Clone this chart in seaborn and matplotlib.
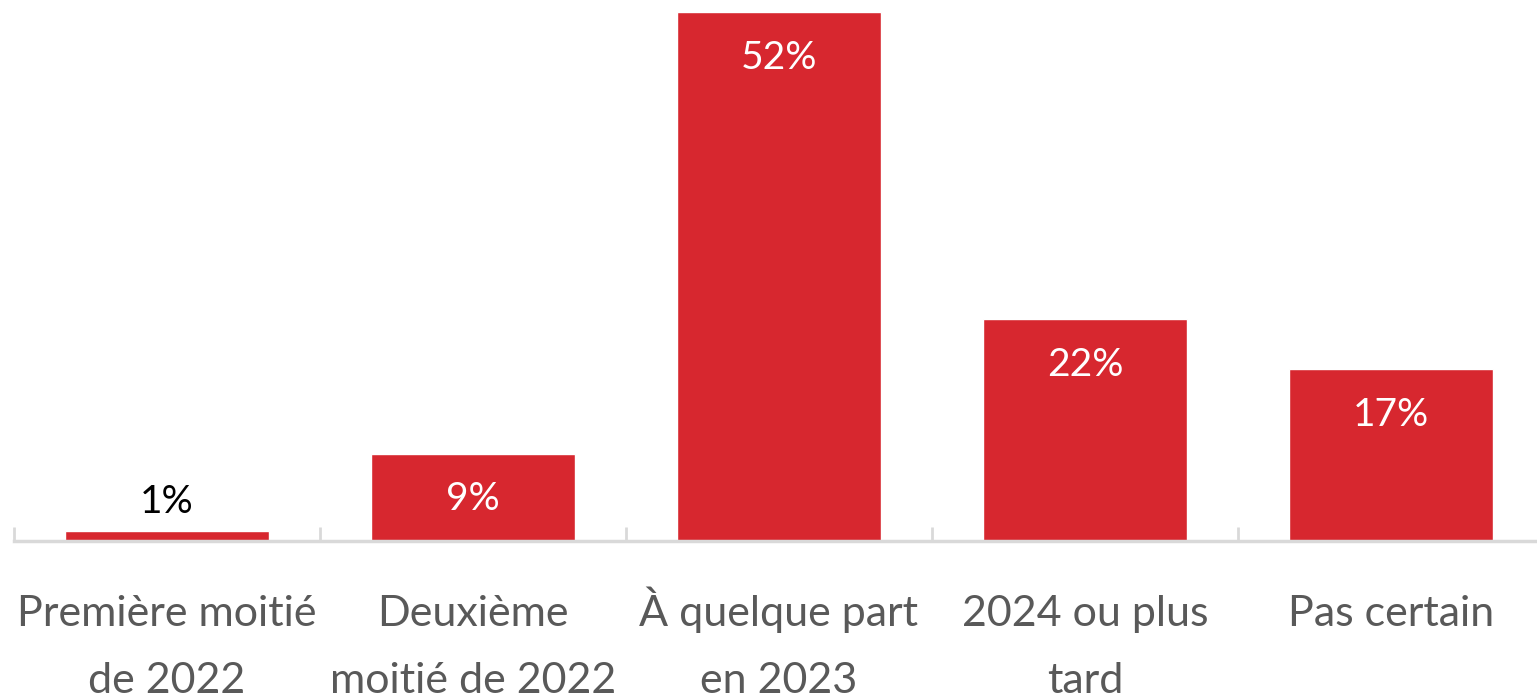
import matplotlib
matplotlib.use("Agg")
import matplotlib.pyplot as plt
import seaborn as sns
import pandas as pd
import numpy as np

categories = ["Première moitié\nde 2022", "Deuxième\nmoitié de 2022", "À quelque part\nen 2023",
              "2024 ou plus\ntard", "Pas certain"]
values = [1.0, 8.6, 52.0, 21.8, 16.9]
value_labels = ["1%", "9%", "52%", "22%", "17%"]

sns.set_theme(style="white")
plt.rcParams['font.family'] = ['Lato', 'DejaVu Sans']

df = pd.DataFrame({"cat": categories, "val": values})

fig = plt.figure(figsize=(15.37, 6.99), dpi=100)
ax = fig.add_axes([14/1537, 1 - 541/699, 1530/1537, (541 - 12)/699])

sns.barplot(data=df, x="cat", y="val", color="#D7272F", width=2/3, ax=ax, saturation=1)

ax.set_ylim(0, 52)
ax.set_xlim(-0.5, 4.5)
ax.set_xlabel("")
ax.set_ylabel("")
ax.set_yticks([])
for s in ["top", "right", "left"]:
    ax.spines[s].set_visible(False)
ax.spines["bottom"].set_color("#d9d9d9")
ax.spines["bottom"].set_linewidth(2.5)

label_color = "#595959"
label_size = 31
first_lines = [c.split("\n")[0] for c in categories]
ax.set_xticks(range(len(categories)))
ax.set_xticklabels(first_lines, fontsize=label_size, color=label_color, va="baseline")
ax.tick_params(axis="x", which="major", length=0, pad=61, bottom=True)
for i, c in enumerate(categories):
    parts = c.split("\n")
    if len(parts) > 1:
        ax.annotate(parts[1], xy=(i, 0), xycoords=("data", "axes fraction"),
                    xytext=(0, -(61 + 48.2)), textcoords="offset points",
                    ha="center", va="baseline", fontsize=label_size, color=label_color,
                    annotation_clip=False)

ax.set_xticks(np.arange(-0.5, len(categories), 1), minor=True)
ax.tick_params(axis="x", which="minor", length=10, width=2, color="#d9d9d9",
               direction="in", bottom=True)

for i, (v, lab) in enumerate(zip(values, value_labels)):
    if v < 5:
        ax.annotate(lab, (i, v), xytext=(0, 8), textcoords="offset points",
                    ha="center", va="bottom", fontsize=28, color="black")
    else:
        ax.annotate(lab, (i, v), xytext=(0, -20), textcoords="offset points",
                    ha="center", va="top", fontsize=28, color="white")

fig.savefig("out.png", dpi=100)
